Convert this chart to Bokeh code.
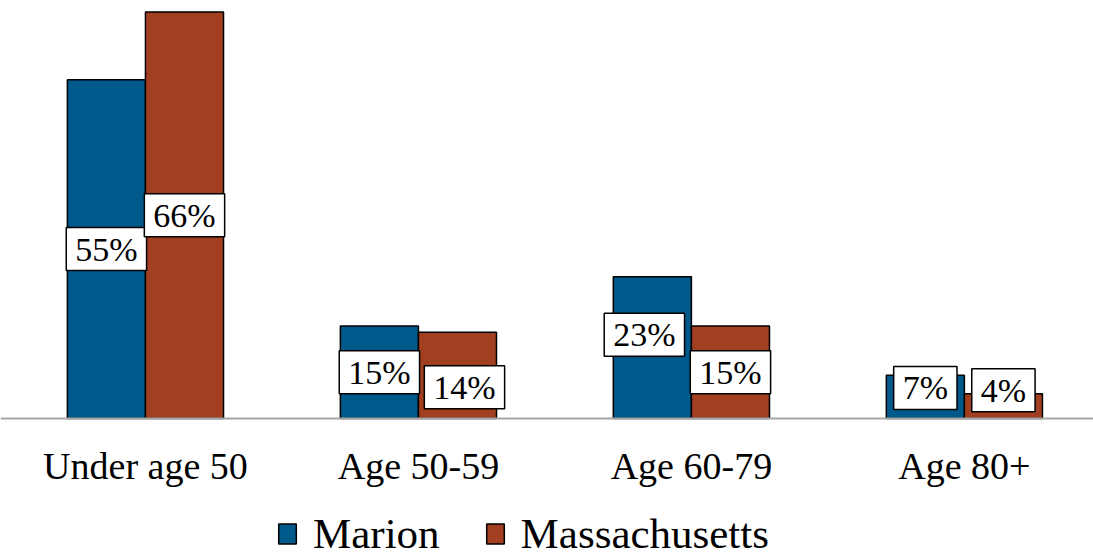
from bokeh.plotting import figure
from bokeh.models import Range1d, Legend, LegendItem, ColumnDataSource, FixedTicker
from bokeh.core.properties import value
from bokeh.embed import file_html
from bokeh.resources import INLINE

categories = ["Under age 50", "Age 50-59", "Age 60-79", "Age 80+"]
marion = [55, 15, 23, 7]
massachusetts = [66, 14, 15, 4]
series_names = ["Marion", "Massachusetts"]

# label nudges (screen px) mimicking the reference's label collision avoidance
marion_dx = [0, 0, -8, 0]
marion_dy = [0, 0, -13, -9]
mass_dx = [0, 7, 0, 0]
mass_dy = [0, 12, 0, -16]

BLUE = "#00598B"
RUST = "#A13F20"
FONT = "Liberation Serif"

xs = list(range(len(categories)))
bw = 0.286
off = bw / 2

p = figure(width=1093, height=558, output_backend="svg", toolbar_location=None,
           x_range=Range1d(-0.531, 3.473), y_range=Range1d(-22.73, 67.86),
           min_border_left=0, min_border_right=0, min_border_top=0, min_border_bottom=0)
p.outline_line_color = None
p.grid.visible = False
p.yaxis.visible = False
p.background_fill_color = None
p.border_fill_color = None

src_m = ColumnDataSource(dict(x=[x - off for x in xs], top=marion,
                              ly=[v / 2 for v in marion],
                              lab=[f"{v}%" for v in marion],
                              dx=marion_dx, dy=marion_dy))
src_s = ColumnDataSource(dict(x=[x + off for x in xs], top=massachusetts,
                              ly=[v / 2 for v in massachusetts],
                              lab=[f"{v}%" for v in massachusetts],
                              dx=mass_dx, dy=mass_dy))

r_m = p.vbar(x="x", top="top", bottom=0, width=bw, source=src_m,
             fill_color=BLUE, line_color="black", line_width=1.5)
r_s = p.vbar(x="x", top="top", bottom=0, width=bw, source=src_s,
             fill_color=RUST, line_color="black", line_width=1.5)

for src in (src_m, src_s):
    p.text(x="x", y="ly", text="lab", source=src, x_offset="dx", y_offset="dy",
           text_font=value(FONT), text_font_size="34px", text_color="black",
           text_align="center", text_baseline="middle",
           background_fill_color="white", border_line_color="black",
           border_line_width=1.5,
           padding=dict(left=9, right=9, top=3, bottom=3))

ax = p.xaxis[0]
ax.fixed_location = 0
ax.ticker = FixedTicker(ticks=xs)
ax.major_label_overrides = {x: c for x, c in zip(xs, categories)}
ax.major_tick_line_color = None
ax.minor_tick_line_color = None
ax.axis_line_color = "#A6A6A6"
ax.axis_line_width = 2
ax.major_label_text_font = FONT
ax.major_label_text_font_size = "38px"
ax.major_label_text_color = "black"
ax.major_label_standoff = 21

legend = Legend(items=[LegendItem(label=series_names[0], renderers=[r_m]),
                       LegendItem(label=series_names[1], renderers=[r_s])],
                location=(276, 0), orientation="horizontal",
                glyph_width=22, glyph_height=25, label_standoff=15, spacing=44,
                padding=0, margin=0, border_line_color=None,
                background_fill_alpha=0,
                label_text_font=FONT, label_text_font_size="43px",
                label_text_color="black")
p.add_layout(legend, "center")

open("out.html", "w").write(file_html(p, INLINE))
